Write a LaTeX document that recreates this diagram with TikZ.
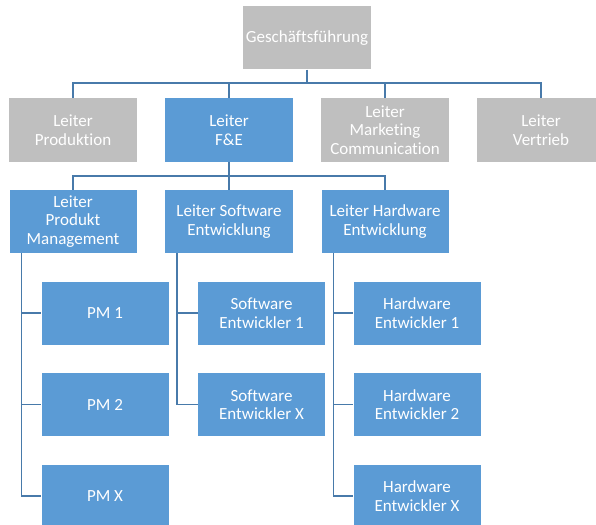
\documentclass[tikz,border=0pt]{standalone}
\usepackage{fontspec}
\setmainfont{Carlito}[Ligatures=NoCommon]
\usepackage{tikz}
\definecolor{boxBlue}{RGB}{91,155,213}
\definecolor{boxGrey}{RGB}{191,191,191}
\definecolor{linkBlue}{RGB}{72,122,170}

\begin{document}
\begin{tikzpicture}[x=1pt,y=-1pt,
  every node/.style={rectangle,text=white,align=center,inner sep=1pt,font=\fontsize{17}{18.5}\selectfont},
  grey/.style={fill=boxGrey,minimum width=128pt,minimum height=63pt},
  blue/.style={fill=boxBlue,minimum width=127pt,minimum height=63pt},
  link/.style={draw=linkBlue,line width=1.4pt}]
            \path[use as bounding box,clip] (0,0) rectangle (596,524);

            \node[grey] (gf) at (307,38) {Gesch\"aftsf\"uhrung};

            \node[grey] (prod) at (73,130) {Leiter\\Produktion};
            \node[blue,minimum width=128pt] (fue) at (229,130) {Leiter\\F\&E};
            \node[grey] (mark) at (385,130) {Leiter\\Marketing\\Communication};
            \node[grey] (vert) at (541,130) {Leiter\\Vertrieb};

            \node[blue] (pm) at (73,221.5) {Leiter\\Produkt\\Management};
            \node[blue,minimum width=128pt] (sw) at (229,221.5) {Leiter Software\\Entwicklung};
            \node[blue] (hw) at (385,221.5) {Leiter Hardware\\Entwicklung};

            \node[blue] (pm1) at (105,313) {PM 1};
            \node[blue] (pm2) at (105,404.5) {PM 2};
            \node[blue] (pmx) at (105,496) {PM X};
            \node[blue] (sw1) at (261.5,313) {Software\\Entwickler 1};
            \node[blue] (swx) at (261.5,404.5) {Software\\Entwickler X};
            \node[blue] (hw1) at (417,313) {Hardware\\Entwickler 1};
            \node[blue] (hw2) at (417,404.5) {Hardware\\Entwickler 2};
            \node[blue] (hwx) at (417,496) {Hardware\\Entwickler X};

            \coordinate (bus1) at (307,83);
            \coordinate (bus2) at (229,176);
            \draw[link] (gf.south) -- (bus1);
            \foreach \n in {prod,fue,mark,vert}
                \draw[link] (bus1) -| (\n.north);
            \draw[link] (fue.south) -- (bus2);
            \foreach \n in {pm,sw,hw}
                \draw[link] (bus2) -| (\n.north);
            \foreach \a/\b in {pm/pm1,pm/pm2,pm/pmx,sw/sw1,sw/swx,hw/hw1,hw/hw2,hw/hwx}
                \draw[link] ([xshift=12pt]\a.south west) |- (\b.west);
        \end{tikzpicture}
\end{document}
